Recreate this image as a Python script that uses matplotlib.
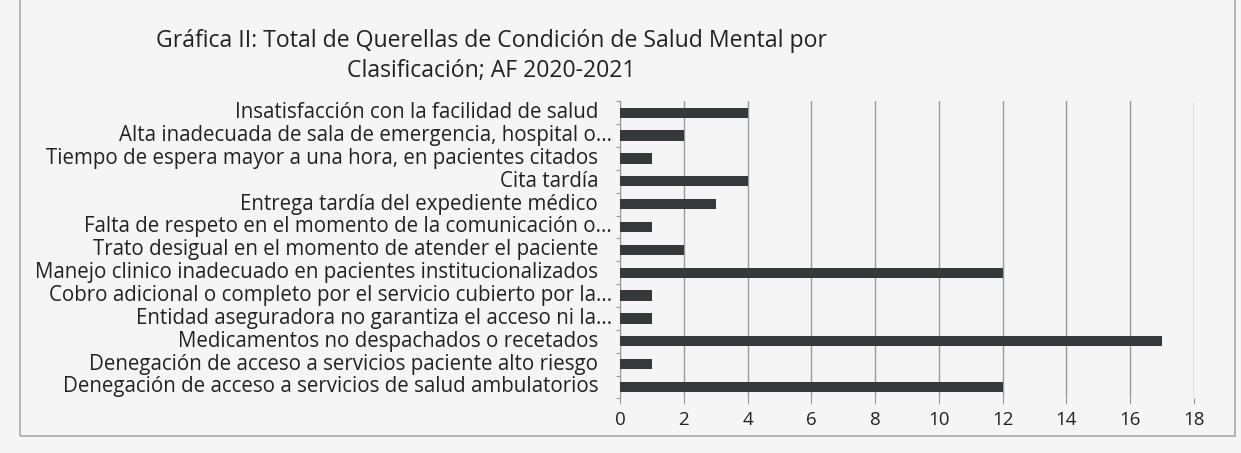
import matplotlib
matplotlib.use("Agg")
import matplotlib.pyplot as plt
from matplotlib.patches import Rectangle
from matplotlib.transforms import offset_copy

# data, top to bottom as shown in the chart
categories = [
    "Insatisfacción con la facilidad de salud",
    "Alta inadecuada de sala de emergencia, hospital o...",
    "Tiempo de espera mayor a una hora, en pacientes citados",
    "Cita tardía",
    "Entrega tardía del expediente médico",
    "Falta de respeto en el momento de la comunicación o...",
    "Trato desigual en el momento de atender el paciente",
    "Manejo clinico inadecuado en pacientes institucionalizados",
    "Cobro adicional o completo por el servicio cubierto por la...",
    "Entidad aseguradora no garantiza el acceso ni la...",
    "Medicamentos no despachados o recetados",
    "Denegación de acceso a servicios paciente alto riesgo",
    "Denegación de acceso a servicios de salud ambulatorios",
]
values = [4, 2, 1, 4, 3, 1, 2, 12, 1, 1, 17, 1, 12]
xticks = [0, 2, 4, 6, 8, 10, 12, 14, 16, 18]
title = "Gráfica II: Total de Querellas de Condición de Salud Mental por\nClasificación; AF 2020-2021"

FONT = "Open Sans"
BG = "#f5f5f5"

fig = plt.figure(figsize=(12.41, 4.53), dpi=100, facecolor=BG)
ax = fig.add_axes([0.4996, 0.1205, 0.4625, 0.656])
ax.set_facecolor(BG)

n = len(categories)
ypos = list(range(n - 1, -1, -1))
ax.barh(ypos, values, height=0.45, color="#36393a", zorder=3)

ax.set_xlim(0, 18)
ax.set_ylim(-0.5, n - 0.5)
ax.set_xticks(xticks)
ax.set_xticklabels([str(t) for t in xticks], fontsize=13.5, family=FONT, color="#222222")
ax.tick_params(axis="x", length=4, color="#999999", pad=5)
ax.set_yticks([i - 0.5 for i in range(n + 1)])
ax.set_yticklabels([])
ax.tick_params(axis="y", length=3, color="#999999")
ax.grid(axis="x", color="#9a9a9a", lw=1.0, zorder=0)
for s in ["top", "right", "bottom"]:
    ax.spines[s].set_visible(False)
ax.spines["left"].set_color("#999999")

# category labels, ellipsis ones hang further right like the original
base = ax.get_yaxis_transform()
for y, lab in zip(ypos, categories):
    dx = -8 if lab.endswith("...") else -22
    tr = offset_copy(base, fig=fig, x=dx, y=0, units="dots")
    ax.text(0, y, lab, transform=tr, ha="right", va="center",
            fontsize=14.8, family=FONT, color="#222222")

fig.text(0.396, 0.876, title, ha="center", va="center", fontsize=16.6,
         family=FONT, color="#222222", linespacing=1.3)

# scanned frame around the chart
fig.patches.append(Rectangle((20 / 1241, 1 - 436 / 453), (1235 - 20) / 1241, 1.2,
                             transform=fig.transFigure, fill=False,
                             edgecolor="#aaaaaa", lw=1.2))

fig.savefig("out.png", dpi=100, facecolor=BG)
